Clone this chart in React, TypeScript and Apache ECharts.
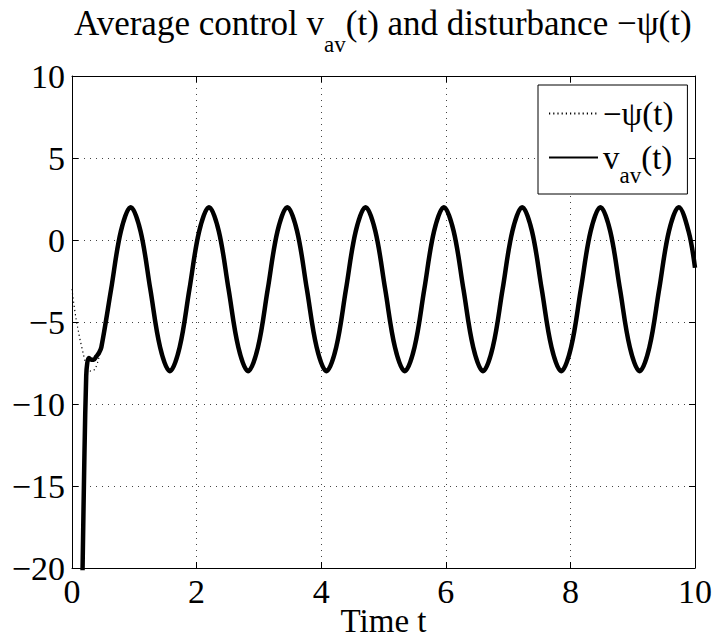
import React, { useEffect, useRef } from "react";
import * as echarts from "echarts";

// sample times (s), roughly every 1/8 period
const tPsi = [
  0.0, 0.157, 0.314, 0.471, 0.628, 0.785, 0.942, 1.1, 1.257, 1.414, 1.571, 1.728, 1.885, 2.042,
  2.199, 2.356, 2.513, 2.67, 2.827, 2.985, 3.142, 3.299, 3.456, 3.613, 3.77, 3.927, 4.084, 4.241,
  4.398, 4.555, 4.712, 4.869, 5.027, 5.184, 5.341, 5.498, 5.655, 5.812, 5.969, 6.126, 6.283, 6.44,
  6.597, 6.754, 6.912, 7.069, 7.226, 7.383, 7.54, 7.697, 7.854, 8.011, 8.168, 8.325, 8.482, 8.639,
  8.796, 8.954, 9.111, 9.268, 9.425, 9.582, 9.739, 9.896, 10.0,
];
// disturbance -psi(t)
const psiVals = [
  -3, -6.54, -8, -6.54, -3, 0.54, 2, 0.54,
  -3, -6.54, -8, -6.54, -3, 0.54, 2, 0.54,
  -3, -6.54, -8, -6.54, -3, 0.54, 2, 0.54,
  -3, -6.54, -8, -6.54, -3, 0.54, 2, 0.54,
  -3, -6.54, -8, -6.54, -3, 0.54, 2, 0.54,
  -3, -6.54, -8, -6.54, -3, 0.54, 2, 0.54,
  -3, -6.54, -8, -6.54, -3, 0.54, 2, 0.54,
  -3, -6.54, -8, -6.54, -3, 0.54, 2, 0.54,
  -1.69,
];
// average control v_av(t): initial transient, then it tracks -psi(t) from t = 0.471
const tAvStart = [0.14, 0.17, 0.2, 0.228, 0.245, 0.27, 0.31, 0.35, 0.39, 0.43];
const avStart = [-27, -20, -13, -8.3, -7.5, -7.2, -7.3, -7.3, -7.1, -6.9];
const avJoinIndex = 3;

const xTicks = { min: 0, max: 10, interval: 2 };
const yTicks = { min: -20, max: 10, interval: 5 };

const FONT = '"Liberation Serif", "Times New Roman", serif';

export default function App() {
  const ref = useRef<HTMLDivElement>(null);
  useEffect(() => {
    if (!ref.current) return;
    const chart = echarts.init(ref.current, null, { renderer: "svg" });
    const psiData = tPsi.map((t, i) => [t, psiVals[i]]);
    const avData = tAvStart
      .map((t, i) => [t, avStart[i]])
      .concat(tPsi.slice(avJoinIndex).map((t, i) => [t, psiVals[i + avJoinIndex]]));
    const minus = (v: number) => String(v).replace("-", "\u2212");
    const gridLine = { show: true, lineStyle: { color: "#444", type: [1, 5] as any, width: 1 } };
    const axisCommon = {
      type: "value" as const,
      axisLine: { show: true, onZero: false, lineStyle: { color: "#000", width: 1 } },
      axisTick: { show: true, inside: true, length: 6, lineStyle: { color: "#000" } },
    };
    chart.setOption({
      animation: false,
      backgroundColor: "#fff",
      title: {
        left: 74,
        top: 6,
        padding: 0,
        text: "{n|Average control v}{s|av}{n|(t) and disturbance \u2212\u03c8(t)}",
        textStyle: {
          fontFamily: FONT,
          fontWeight: "normal",
          rich: {
            n: { fontFamily: FONT, fontWeight: "normal", fontSize: 35, height: 35, lineHeight: 50, verticalAlign: "top", color: "#000" },
            s: { fontFamily: FONT, fontWeight: "normal", fontSize: 23, height: 23, lineHeight: 50, verticalAlign: "bottom", color: "#000" },
          },
        },
      },
      legend: {
        orient: "vertical",
        left: 538,
        top: 85,
        align: "left",
        padding: [12, 14, 7, 10],
        itemGap: 11,
        itemWidth: 49,
        itemHeight: 14,
        borderColor: "#000",
        borderWidth: 1,
        borderRadius: 0,
        backgroundColor: "#fff",
        itemStyle: { opacity: 0 },
        data: ["\u2212\u03c8(t)", "v_av(t)"],
        formatter: (name: string) =>
          name === "v_av(t)" ? "{n|v}{s|av}{n|(t)}" : "{m|\u2212\u03c8(t)}",
        textStyle: {
          fontFamily: FONT,
          rich: {
            m: { fontFamily: FONT, fontSize: 33, height: 30, lineHeight: 30, color: "#000" },
            n: { fontFamily: FONT, fontSize: 33, height: 30, lineHeight: 59, verticalAlign: "middle", color: "#000" },
            s: { fontFamily: FONT, fontSize: 23, height: 23, lineHeight: 59, verticalAlign: "bottom", color: "#000" },
          },
        },
      },
      grid: { left: 72, right: 22, top: 76, bottom: 73, containLabel: false, outerBoundsMode: "none" },
      xAxis: [
        {
          ...axisCommon,
          ...xTicks,
          position: "bottom",
          name: "Time t",
          nameLocation: "middle",
          nameGap: 39,
          nameMoveOverlap: false,
          nameTextStyle: { fontFamily: FONT, fontSize: 33, lineHeight: 28, color: "#000" },
          axisLabel: { fontFamily: FONT, fontSize: 34, color: "#000", margin: 6, formatter: minus },
          splitLine: gridLine,
        },
        {
          ...axisCommon,
          ...xTicks,
          position: "top",
          axisLabel: { show: false },
          splitLine: { show: false },
        },
      ],
      yAxis: [
        {
          ...axisCommon,
          ...yTicks,
          position: "left",
          axisLabel: { fontFamily: FONT, fontSize: 34, color: "#000", margin: 7, formatter: minus },
          splitLine: gridLine,
        },
        {
          ...axisCommon,
          ...yTicks,
          position: "right",
          axisLabel: { show: false },
          splitLine: { show: false },
        },
      ],
      series: [
        {
          name: "\u2212\u03c8(t)",
          type: "line",
          data: psiData,
          smooth: 0.5,
          symbol: "none",
          clip: true,
          itemStyle: { color: "#000" },
          lineStyle: { color: "#000", width: 1.2, type: [1.2, 3] as any },
          z: 2,
        },
        {
          name: "v_av(t)",
          type: "line",
          data: avData,
          smooth: 0.35,
          symbol: "none",
          clip: true,
          itemStyle: { color: "#000" },
          lineStyle: { color: "#000", width: 4.5 },
          z: 3,
        },
      ],
    });
    return () => chart.dispose();
  }, []);
  return <div ref={ref} style={{ width: 717, height: 641, position: "absolute", left: 0, top: 0 }} />;
}
